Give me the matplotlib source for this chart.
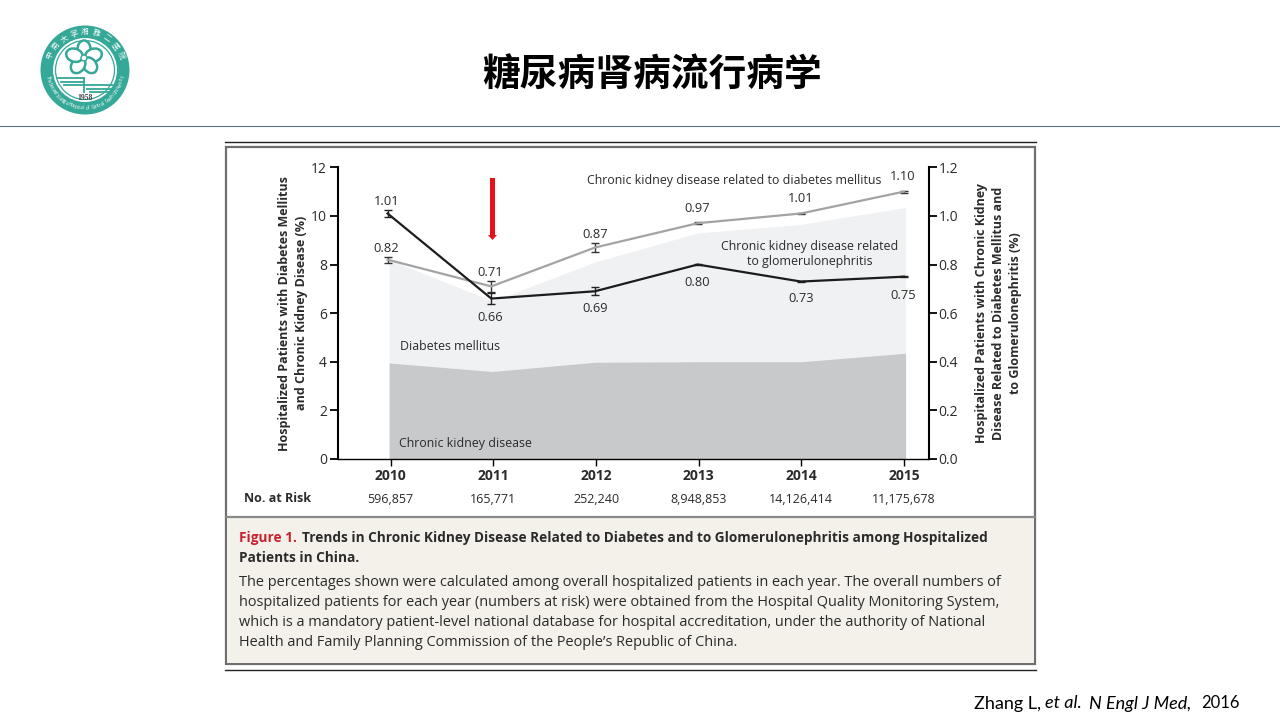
import matplotlib
matplotlib.use("Agg")
import numpy as np
import matplotlib.pyplot as plt
from matplotlib.patches import Circle, Ellipse, Rectangle, FancyArrow

plt.rcParams["font.family"] = ["Open Sans", "DejaVu Sans"]

years = [2010, 2011, 2012, 2013, 2014, 2015]
at_risk = ["596,857", "165,771", "252,240", "8,948,853", "14,126,414", "11,175,678"]
area_years = [2009.985, 2010.99, 2011.99, 2012.99, 2013.995, 2015.015]
diabetes_area = [8.2, 6.5, 8.1, 9.3, 9.65, 10.35]
ckd_area = [3.95, 3.6, 3.98, 4.0, 4.0, 4.35]
line_years = [2009.97, 2010.98, 2011.99, 2012.99, 2013.995, 2015]
ckd_dm = [0.82, 0.71, 0.87, 0.97, 1.01, 1.10]
ckd_dm_err = [0.012, 0.023, 0.019, 0.004, 0.004, 0.004]
ckd_gn = [1.01, 0.66, 0.69, 0.80, 0.73, 0.75]
ckd_gn_err = [0.016, 0.023, 0.017, 0.003, 0.003, 0.003]
left_ticks = [0, 2, 4, 6, 8, 10, 12]
right_ticks = [0.0, 0.2, 0.4, 0.6, 0.8, 1.0, 1.2]

TXT = "#2b2b2b"
W, H = 1280, 720

fig = plt.figure(figsize=(12.8, 7.2), dpi=100, facecolor="white")

# page layer in pixel coordinates
bg = fig.add_axes([0, 0, 1, 1])
bg.set_xlim(0, W)
bg.set_ylim(H, 0)
bg.axis("off")

bg.text(652, 74, "糖尿病肾病流行病学", family=["Noto Sans CJK SC", "DejaVu Sans"],
        fontsize=27.2, fontweight="bold", ha="center", va="center", color="black")
bg.plot([0, W], [125.5, 125.5], color="#5d7283", lw=0.8)

# figure box
bg.plot([225, 1036], [142, 142], color="#222222", lw=1)
bg.plot([225, 1036], [670, 670], color="#222222", lw=1)
bg.add_patch(Rectangle((226, 147), 809, 517, fc="white", ec="#6f6f6f", lw=1.6))
bg.add_patch(Rectangle((227, 517), 807, 146, fc="#f4f1eb", ec="none"))
bg.plot([226, 1035], [516.5, 516.5], color="#8a8a8a", lw=1.6)

# logo
TEAL = "#35a898"
cx, cy = 85, 70
bg.add_patch(Circle((cx, cy), 44.5, fc=TEAL, ec="none"))
bg.add_patch(Circle((cx, cy), 32, fc="white", ec="none"))
bg.add_patch(Circle((cx, cy), 29.5, fc="white", ec=TEAL, lw=0.9))
for ang in np.arange(0, 360, 72) - 90:
    px = 84 + 10 * np.cos(np.radians(ang))
    py = 58 + 9 * np.sin(np.radians(ang))
    bg.add_patch(Ellipse((px, py), 17, 13, angle=ang, fc="white", ec=TEAL, lw=1.8))
bg.add_patch(Circle((84, 58), 3, fc="white", ec=TEAL, lw=1))
for off, x0, x1 in [(0, 58, 84), (3.5, 61, 84), (7, 64, 84)]:
    bg.plot([x0, x1], [78 + off, 78 + off], color=TEAL, lw=1.3)
    bg.plot([x0 + 26, x1 + 29], [85 + off, 85 + off], color=TEAL, lw=1.3)
bg.plot([84, 84], [78, 92], color=TEAL, lw=1.3)
bg.text(cx, 98.5, "1958", fontsize=5.5, family="Liberation Serif", fontweight="bold",
        ha="center", va="center", color="#444444", zorder=5)
top_chars = "中南大学湘雅二医院"
for ch, ang in zip(top_chars, np.linspace(158, 22, len(top_chars))):
    bg.text(cx + 38 * np.cos(np.radians(ang)), cy - 38 * np.sin(np.radians(ang)), ch,
            family=["Noto Sans CJK SC"], fontsize=5.5, color="white", ha="center", va="center",
            rotation=ang - 90)
bottom = "The Second Xiangya Hospital of Central South University"
for ch, ang in zip(bottom, np.linspace(190, 350, len(bottom))):
    bg.text(cx + 38 * np.cos(np.radians(ang)), cy - 38 * np.sin(np.radians(ang)), ch,
            fontsize=3.4, color="white", ha="center", va="center", rotation=ang - 270)

# chart
ax = fig.add_axes([338 / W, 1 - 459 / H, (929 - 338) / W, (459 - 167.3) / H])
ax.set_facecolor("none")
ax.set_xlim(2009.487, 2015.243)
ax.set_ylim(0, 12)
ax.fill_between(area_years, 0, diabetes_area, color="#f0f1f3", lw=0, zorder=1)
ax.fill_between(area_years, 0, ckd_area, color="#c8c9cb", lw=0, zorder=2)
ax.set_xticks(years)
ax.set_xticklabels(years, fontweight="bold", fontsize=10, color=TXT)
ax.set_yticks(left_ticks)
ax.tick_params(axis="y", labelsize=10, labelcolor=TXT, width=1.3, length=6, pad=2)
ax.tick_params(axis="x", width=1, length=5, pad=2)
ax.spines["top"].set_visible(False)
ax.spines["left"].set_linewidth(1.5)
ax.spines["bottom"].set_linewidth(1)
ax.spines["right"].set_visible(False)
ax.set_ylabel("Hospitalized Patients with Diabetes Mellitus\nand Chronic Kidney Disease (%)",
              fontsize=9, fontweight="bold", color=TXT, labelpad=2, linespacing=1.4)

ax2 = ax.twinx()
ax2.set_ylim(0, 1.2)
ax2.set_yticks(right_ticks)
ax2.set_yticklabels([f"{t:.1f}" for t in right_ticks])
ax2.tick_params(axis="y", labelsize=10, labelcolor=TXT, width=1.3, length=6, pad=1)
ax2.spines["top"].set_visible(False)
ax2.spines["left"].set_visible(False)
ax2.spines["bottom"].set_visible(False)
ax2.spines["right"].set_linewidth(1.5)
ax2.set_ylabel("Hospitalized Patients with Chronic Kidney\nDisease Related to Diabetes Mellitus and\nto Glomerulonephritis (%)",
               fontsize=9, fontweight="bold", color=TXT, labelpad=12, linespacing=1.4, rotation=90)

ax2.errorbar(line_years, ckd_dm, yerr=ckd_dm_err, color="#a3a3a3", lw=1.6, ecolor="#333333",
             elinewidth=1, capsize=3, capthick=1, zorder=5)
ax2.errorbar(line_years, ckd_gn, yerr=ckd_gn_err, color="#1c1c1c", lw=1.6, ecolor="#222222",
             elinewidth=1, capsize=3, capthick=1, zorder=6)

# value labels, offsets in pixels from each point
for x, v, dx, dy in zip(line_years, ckd_dm, [-1, -1, 0, 0, 0, -1], [11, 14, 13, 15, 15, 15]):
    ax2.annotate(f"{v:.2f}", (x, v), xytext=(dx * 0.72, dy * 0.72), textcoords="offset points",
                 ha="center", va="center", fontsize=9.3, color=TXT)
for x, v, dx, dy in zip(line_years, ckd_gn, [-1, -1, 0, 0, 0, -1], [12, -19, -17, -18, -17, -19]):
    ax2.annotate(f"{v:.2f}", (x, v), xytext=(dx * 0.72, dy * 0.72), textcoords="offset points",
                 ha="center", va="center", fontsize=9.3, color=TXT)

bg.set_zorder(0)
ax.set_zorder(1)
ax2.set_zorder(2)

# page layer again, above the chart, for the annotations
top = fig.add_axes([0, 0, 1, 1], zorder=3)
top.set_xlim(0, W)
top.set_ylim(H, 0)
top.axis("off")
top.text(734, 180.5, "Chronic kidney disease related to diabetes mellitus", fontsize=8.95,
         ha="center", va="center", color=TXT)
top.text(810, 254, "Chronic kidney disease related\nto glomerulonephritis", fontsize=8.95,
         ha="center", va="center", color=TXT, linespacing=1.2)
top.text(400, 347, "Diabetes mellitus", fontsize=8.95, ha="left", va="center", color=TXT)
top.text(399, 443.5, "Chronic kidney disease", fontsize=8.95, ha="left", va="center", color=TXT)
top.add_patch(FancyArrow(492.5, 178, 0, 62, width=5, head_width=9, head_length=5,
                         length_includes_head=True, fc="#e8111a", ec="none"))
top.text(243.5, 499, "No. at Risk", fontsize=9, fontweight="bold", ha="left", va="center", color=TXT)
for x, n in zip(years, at_risk):
    px = 338 + (x - 2009.487) * (929 - 338) / (2015.243 - 2009.487)
    top.text(px, 499.5, n, fontsize=9, ha="center", va="center", color=TXT)

top.text(239, 538, "Figure 1.", fontsize=9.83, fontweight="bold", color="#c8202f", va="center")
top.text(302, 538, "Trends in Chronic Kidney Disease Related to Diabetes and to Glomerulonephritis among Hospitalized",
         fontsize=9.83, fontweight="bold", color=TXT, va="center")
top.text(239, 558, "Patients in China.", fontsize=9.83, fontweight="bold", color=TXT, va="center")
body = ["The percentages shown were calculated among overall hospitalized patients in each year. The overall numbers of",
        "hospitalized patients for each year (numbers at risk) were obtained from the Hospital Quality Monitoring System,",
        "which is a mandatory patient-level national database for hospital accreditation, under the authority of National",
        "Health and Family Planning Commission of the People\u2019s Republic of China."]
for i, line in enumerate(body):
    top.text(239, 582.5 + i * 20, line, fontsize=10.47, color=TXT, va="center")

top.text(974, 703.5, "Zhang L,", family="Lato", fontsize=13, va="center", color="black")
top.text(1045, 703.5, "et al", family="Lato", style="italic", fontsize=13, va="center", color="black")
top.text(1077, 703.5, ".", family="Lato", fontsize=13, va="center", color="black")
top.text(1089, 703.5, "N Engl J Med,", family="Lato", style="italic", fontsize=13, va="center", color="black")
top.text(1201, 703.5, "2016", family="Lato", fontsize=12, va="center", color="black")

fig.savefig("out.png", dpi=100)
